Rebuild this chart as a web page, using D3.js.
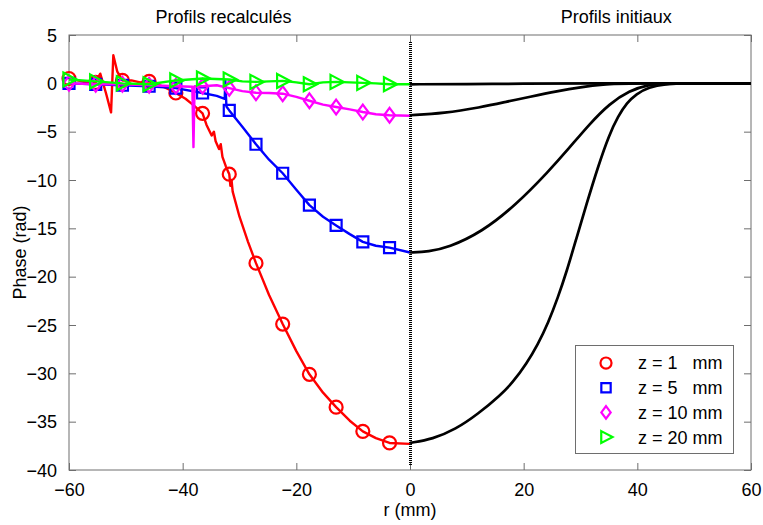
<!DOCTYPE html>
<html>
<head>
<meta charset="utf-8">
<script src="https://cdn.jsdelivr.net/npm/d3@7/dist/d3.min.js"></script>
<style>
  html, body { margin: 0; padding: 0; background: #fff; }
  svg { display: block; }
  text { font-family: "Liberation Sans", Arial, Helvetica, sans-serif; fill: #000; }
</style>
</head>
<body>
<svg id="chart" width="763" height="525"></svg>
<script>
// ---------- DATA ----------
const xTicks = [-60, -40, -20, 0, 20, 40, 60];
const yTicks = [5, 0, -5, -10, -15, -20, -25, -30, -35, -40];
const panelTitles = ["Profils recalculés", "Profils initiaux"];
const xLabel = "r (mm)";
const yLabel = "Phase (rad)";
const seriesNames = ["z = 1   mm", "z = 5   mm", "z = 10 mm", "z = 20 mm"];
const seriesColors = ["#ff0000", "#0000ff", "#ff00ff", "#00ff00"];
const seriesMarkers = ["circle", "square", "diamond", "triangle"];

// marker positions (r, mm) on the recalculated side
const markerR = [-60, -55.3, -50.6, -45.9, -41.2, -36.5, -31.8, -27.1, -22.4, -17.7, -13.0, -8.3, -3.6];
const markersZ1 = [0.5, 0.1, 0.3, 0.2, -1.0, -3.1, -9.4, -18.6, -24.9, -30.1, -33.5, -36.0, -37.2];
const markersZ5 = [0.0, -0.1, -0.2, -0.3, -0.5, -1.0, -2.8, -6.3, -9.3, -12.6, -14.7, -16.4, -17.0];
const markersZ10 = [0.0, -0.1, -0.1, -0.2, -0.3, -0.3, -0.5, -0.97, -1.07, -1.8, -2.45, -2.97, -3.3];
const markersZ20 = [0.4, 0.2, 0.0, -0.1, 0.3, 0.5, 0.4, 0.15, 0.25, -0.1, 0.15, 0.05, -0.1];

// recalculated profiles (left side), [r, phase]
const lineZ1 = [[-60,0.5],[-58.5,0.3],[-57,0.1],[-55.3,0.1],[-54.5,1.0],[-53.5,-1.0],[-52.6,-3.0],[-52.2,2.9],[-51.5,1.2],[-50.6,0.3],[-49,0.3],[-47.5,0.1],[-45.9,0.2],[-44,-0.2],[-42.5,-0.6],[-41.2,-1.0],[-39.5,-1.6],[-38,-2.3],[-36.5,-3.1],[-35.8,-4.3],[-34.9,-5.4],[-34.5,-5.0],[-34.2,-6.0],[-33.6,-6.8],[-33.3,-6.3],[-33.0,-7.6],[-32.4,-8.6],[-31.8,-9.4],[-31.6,-10.6],[-31.4,-10.0],[-31.2,-11.2],[-30,-13.8],[-28.5,-16.4],[-27.1,-18.6],[-24.8,-21.9],[-22.4,-24.9],[-20,-27.7],[-17.7,-30.1],[-15.3,-32.0],[-13.0,-33.5],[-10.6,-34.9],[-8.3,-36.0],[-6,-36.7],[-3.6,-37.2],[0,-37.3]];
const lineZ5 = [[-60,0.0],[-55.3,-0.1],[-50.6,-0.2],[-45.9,-0.3],[-41.2,-0.5],[-36.5,-1.0],[-34,-1.3],[-32.6,-1.6],[-32.5,0.3],[-32.3,-2.4],[-31.8,-2.8],[-29.5,-4.5],[-27.1,-6.3],[-24.8,-7.9],[-22.4,-9.3],[-20,-11.0],[-17.7,-12.6],[-15.3,-13.8],[-13.0,-14.7],[-10.6,-15.6],[-8.3,-16.4],[-6,-16.8],[-3.6,-17.0],[0,-17.5]];
const lineZ10 = [[-60,0.0],[-55.3,-0.1],[-50.6,-0.1],[-45.9,-0.2],[-41.2,-0.3],[-38.3,-0.35],[-38.1,-6.6],[-37.9,-0.3],[-36.5,-0.3],[-34,-0.2],[-31.8,-0.5],[-29.5,-0.8],[-27.1,-0.97],[-24.8,-1.0],[-22.4,-1.07],[-20,-1.4],[-17.7,-1.8],[-15.3,-2.2],[-13.0,-2.45],[-10.6,-2.7],[-8.3,-2.97],[-6,-3.2],[-3.6,-3.3],[0,-3.35]];
const lineZ20 = [[-60,0.4],[-55.3,0.2],[-50.6,0.0],[-45.9,-0.1],[-41.2,0.3],[-36.5,0.5],[-31.8,0.4],[-29.5,0.2],[-27.1,0.15],[-24.8,0.2],[-22.4,0.25],[-20,0.1],[-17.7,-0.1],[-15.3,0.1],[-13.0,0.15],[-10.6,0.1],[-8.3,0.05],[-6,0.0],[-3.6,-0.1],[0,-0.1]];

// initial profiles (right side), [r, phase]
const initZ1 = [[0,-37.2],[4,-36.8],[8,-35.8],[12,-34.2],[16,-32.2],[18,-31.0],[20.5,-29.0],[22.5,-27.0],[24.3,-24.8],[26,-22.2],[27.6,-19.4],[29.2,-16.2],[31,-12.6],[33.2,-8.4],[35,-5.4],[36.6,-3.4],[38.2,-2.0],[39.8,-1.1],[42,-0.4],[45,-0.05],[48,0],[60,0]];
const initZ5 = [[0,-17.5],[3.3,-17.4],[6.7,-17.0],[12.6,-15.4],[18.6,-12.6],[24.4,-9.1],[28,-6.7],[31.6,-4.2],[35.1,-2.1],[38.6,-0.75],[42,-0.12],[45,0],[60,0]];
const initZ10 = [[0,-3.3],[6,-3.1],[12.3,-2.5],[17,-1.9],[21,-1.4],[26,-0.8],[30,-0.4],[34,-0.1],[38,0],[60,0]];
const initZ20 = [[0,-0.1],[10,-0.08],[20,-0.04],[30,0],[60,0]];

// ---------- CHART ----------
const W = 763, H = 525;
const m = { left: 69, right: 12, top: 35, bottom: 55 };
const svg = d3.select("#chart");
const x = d3.scaleLinear().domain([-60, 60]).range([m.left, W - m.right]);
const y = d3.scaleLinear().domain([-40, 5]).range([H - m.bottom, m.top]);
const axisColor = "#6e6e6e";
const fs = 18;

// frame
svg.append("rect")
  .attr("x", x(-60)).attr("y", y(5))
  .attr("width", x(60) - x(-60)).attr("height", y(-40) - y(5))
  .attr("fill", "#fff").attr("stroke", axisColor).attr("stroke-width", 1);

// axes (ticks inward)
const tl = 7;
const gB = svg.append("g").attr("transform", `translate(0,${y(-40)})`)
  .call(d3.axisBottom(x).tickValues(xTicks).tickSize(-tl).tickPadding(tl + 6).tickFormat(d3.format("d")));
const gT = svg.append("g").attr("transform", `translate(0,${y(5)})`)
  .call(d3.axisTop(x).tickValues(xTicks).tickSize(-tl).tickFormat(""));
const gL = svg.append("g").attr("transform", `translate(${x(-60)},0)`)
  .call(d3.axisLeft(y).tickValues(yTicks).tickSize(-tl).tickPadding(tl + 5).tickFormat(d3.format("d")));
const gR = svg.append("g").attr("transform", `translate(${x(60)},0)`)
  .call(d3.axisRight(y).tickValues(yTicks).tickSize(-tl).tickFormat(""));
[gB, gT, gL, gR].forEach(g => {
  g.select(".domain").remove();
  g.selectAll(".tick line").attr("stroke", axisColor);
  g.selectAll(".tick text").attr("font-size", fs).attr("font-family", "Liberation Sans, Arial, sans-serif").attr("fill", "#000");
});
gL.selectAll(".tick text").attr("dy", "0.35em");

// labels
svg.append("text").attr("x", x(0)).attr("y", 516).attr("text-anchor", "middle").attr("font-size", fs).text(xLabel);
svg.append("text").attr("transform", `translate(26,${(y(5) + y(-40)) / 2}) rotate(-90)`)
  .attr("text-anchor", "middle").attr("font-size", fs).text(yLabel);
svg.append("text").attr("x", x(-32.8)).attr("y", 23).attr("text-anchor", "middle").attr("font-size", fs).text(panelTitles[0]);
svg.append("text").attr("x", x(36.3)).attr("y", 23).attr("text-anchor", "middle").attr("font-size", fs).text(panelTitles[1]);

const lineLin = d3.line().x(d => x(d[0])).y(d => y(d[1])).curve(d3.curveLinear);
const lineSmooth = d3.line().x(d => x(d[0])).y(d => y(d[1])).curve(d3.curveBasis);

// marker path generator
function markerPath(type, s) {
  if (type === "circle") return d3.symbol().type(d3.symbolCircle).size(Math.PI * s * s)();
  if (type === "square") return `M${-s},${-s}L${s},${-s}L${s},${s}L${-s},${s}Z`;
  if (type === "diamond") return `M0,${-s * 1.35}L${s},0L0,${s * 1.35}L${-s},0Z`;
  if (type === "triangle") return `M${-s * 0.8},${-s}L${s * 1.1},0L${-s * 0.8},${s}Z`;
}
const markerSize = [6.5, 5.5, 5.5, 7];

// initial profiles
[initZ1, initZ5, initZ10, initZ20].forEach(d => {
  svg.append("path").datum(d).attr("d", lineSmooth)
    .attr("fill", "none").attr("stroke", "#000").attr("stroke-width", 2.7)
    .attr("stroke-linejoin", "round");
});

// recalculated profiles
const lines = [lineZ1, lineZ5, lineZ10, lineZ20];
const markerVals = [markersZ1, markersZ5, markersZ10, markersZ20];
lines.forEach((d, i) => {
  svg.append("path").datum(d).attr("d", lineLin)
    .attr("fill", "none").attr("stroke", seriesColors[i]).attr("stroke-width", 2.4)
    .attr("stroke-linejoin", "round");
  svg.append("g").selectAll("path").data(markerR.map((r, k) => [r, markerVals[i][k]]))
    .join("path")
    .attr("transform", p => `translate(${x(p[0])},${y(p[1])})`)
    .attr("d", markerPath(seriesMarkers[i], markerSize[i]))
    .attr("fill", "none").attr("stroke", seriesColors[i]).attr("stroke-width", 2.2);
});

// dotted separator at r = 0
svg.append("line").attr("x1", x(0)).attr("x2", x(0)).attr("y1", y(4.3)).attr("y2", y(-39.5))
  .attr("stroke", "#000").attr("stroke-width", 3).attr("stroke-dasharray", "1.2,0.8")
  .attr("shape-rendering", "crispEdges");

// legend
const lg = svg.append("g");
lg.append("rect").attr("x", 575.5).attr("y", 345.5).attr("width", 158).attr("height", 108)
  .attr("fill", "#fff").attr("stroke", axisColor).attr("stroke-width", 1);
seriesNames.forEach((name, i) => {
  const cy = 363 + i * 24.7;
  lg.append("path").attr("transform", `translate(606,${cy})`)
    .attr("d", markerPath(seriesMarkers[i], markerSize[i] * 0.85))
    .attr("fill", "none").attr("stroke", seriesColors[i]).attr("stroke-width", 2.2);
  lg.append("text").attr("x", 638).attr("y", cy).attr("dy", "0.36em")
    .attr("font-size", fs).style("white-space", "pre").text(name);
});
</script>
</body>
</html>
